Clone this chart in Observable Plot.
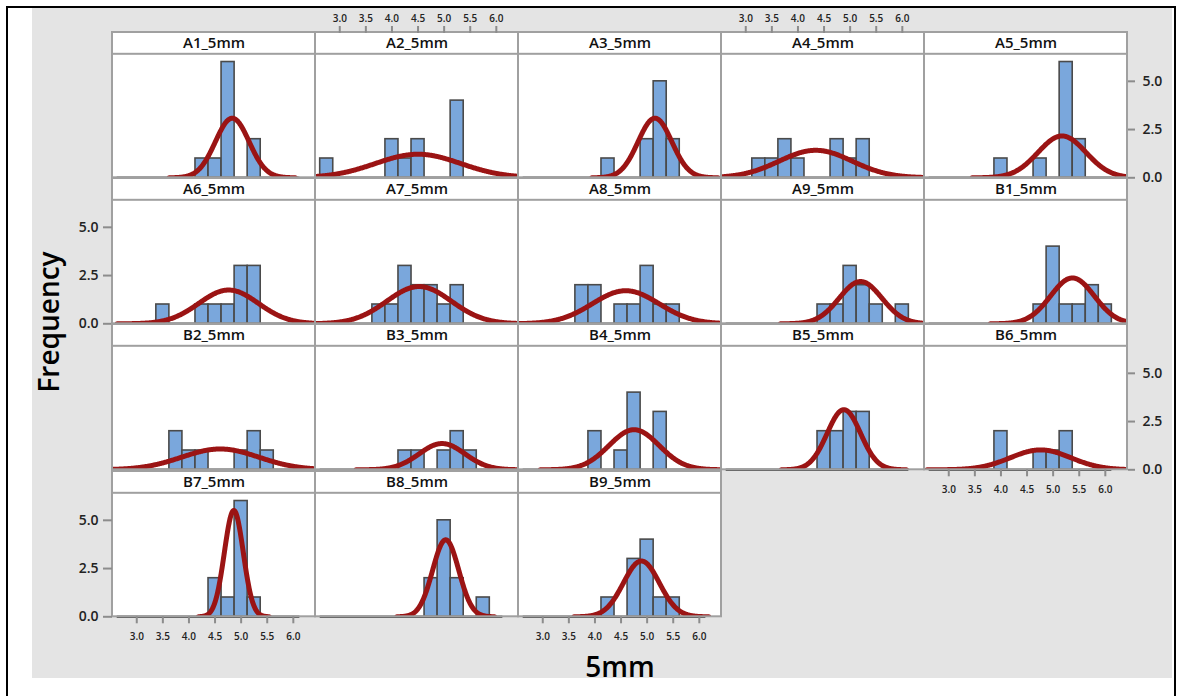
<!DOCTYPE html>
<html><head><meta charset="utf-8">
<script src="https://cdn.jsdelivr.net/npm/d3@7"></script>
<script src="https://cdn.jsdelivr.net/npm/@observablehq/plot@0.6"></script>
<style>
html,body{margin:0;padding:0;background:#fff;}
#root{position:relative;width:1189px;height:696px;overflow:hidden;font-family:"Open Sans",sans-serif;}
.abs{position:absolute;}
#root svg g[aria-label="x-axis tick label"]{font-size:10px;font-weight:600;fill:#222;}
#root svg g[aria-label="y-axis tick label"]{font-size:14px;font-weight:600;fill:#222;}
#root svg g[aria-label="x-axis tick"], #root svg g[aria-label="y-axis tick"]{stroke:#8c8c8c;stroke-width:2;}
</style></head><body><div id="root"></div>
<script>
// ---- data ----
const panelNames = ["A1_5mm","A2_5mm","A3_5mm","A4_5mm","A5_5mm",
                    "A6_5mm","A7_5mm","A8_5mm","A9_5mm","B1_5mm",
                    "B2_5mm","B3_5mm","B4_5mm","B5_5mm","B6_5mm",
                    "B7_5mm","B8_5mm","B9_5mm"];
const binCenters = [2.75,3.0,3.25,3.5,3.75,4.0,4.25,4.5,4.75,5.0,5.25,5.5,5.75,6.0];
const countsA1 = [0,0,0,0,0,0,1,1,6,0,2,0,0,0];
const countsA2 = [1,0,0,0,0,2,1,2,0,0,4,0,0,0];
const countsA3 = [0,0,0,0,0,0,1,0,0,2,5,2,0,0];
const countsA4 = [0,0,1,1,2,1,0,0,2,1,2,0,0,0];
const countsA5 = [0,0,0,0,0,1,0,0,1,0,6,2,0,0];
const countsA6 = [0,0,0,1,0,0,1,1,1,3,3,0,0,0];
const countsA7 = [0,0,0,0,1,1,3,2,2,1,2,0,0,0];
const countsA8 = [0,0,0,0,2,2,0,1,1,3,1,1,0,0];
const countsA9 = [0,0,0,0,0,0,0,1,1,3,2,1,0,1];
const countsB1 = [0,0,0,0,0,0,0,0,1,4,1,1,2,1];
const countsB2 = [0,0,0,0,2,1,1,0,0,1,2,1,0,0];
const countsB3 = [0,0,0,0,0,0,1,1,0,1,2,1,0,0];
const countsB4 = [0,0,0,0,0,2,0,1,4,0,3,0,0,0];
const countsB5 = [0,0,0,0,0,0,0,2,2,3,3,0,0,0];
const countsB6 = [0,0,0,0,0,2,0,0,1,1,2,0,0,0];
const countsB7 = [0,0,0,0,0,0,0,2,1,6,1,0,0,0];
const countsB8 = [0,0,0,0,0,0,0,0,2,5,2,0,1,0];
const countsB9 = [0,0,0,0,0,0,1,0,3,4,1,1,0,0];
// fitted normal (mean, sd)
const fitMean = [4.83,4.50,5.15,4.34,5.17, 4.76,4.52,4.59,5.20,5.37, 4.60,4.96,4.75,4.88,4.76, 4.86,5.03,4.89];
const fitSD   = [0.323,0.817,0.323,0.70,0.46, 0.57,0.62,0.64,0.41,0.42, 0.74,0.44,0.48,0.32,0.58, 0.181,0.25,0.345];
const xTicks = [3.0,3.5,4.0,4.5,5.0,5.5,6.0];
const yTicks = [0,2.5,5.0];
const xTitle = "5mm";
const yTitle = "Frequency";

const panelCounts = [countsA1,countsA2,countsA3,countsA4,countsA5,countsA6,countsA7,countsA8,countsA9,
  countsB1,countsB2,countsB3,countsB4,countsB5,countsB6,countsB7,countsB8,countsB9];

// ---- layout ----
const root = document.getElementById("root");
function div(css, html){const d=document.createElement("div");d.className="abs";d.style.cssText=css;if(html!=null)d.innerHTML=html;root.appendChild(d);return d;}
// outer frame + gray background
div("left:32px;top:8px;width:1140px;height:670px;background:#e4e4e4;");
div("left:6px;top:6px;width:1170px;height:2px;background:#000;");
div("left:6px;top:6px;width:2px;height:690px;background:#000;");
div("left:1174px;top:6px;width:2px;height:690px;background:#000;");

const X0 = 2.535, X1 = 6.425;
const PW = 203, PH = 145.3;
const YS = 6.4, YT = 7.53; // y value at strip bottom, at strip top
const BIN = 0.25;

function panel(i){
  const row = Math.floor(i/5), col = i%5;
  const left = 112 + PW*col, top = 31.5 + 146.4*row;
  const hasTop = i===1||i===3, hasRight = i===4||i===14, hasLeft = i===5||i===15;
  const hasBottom = i===14||i===15||i===17;
  const mL = hasLeft?60:3, mR = hasRight?60:3, mT = hasTop?30:3, mB = hasBottom?30:3;
  const cnt = panelCounts[i];
  const bars = binCenters.map((c,k)=>({x1:c-BIN/2, x2:c+BIN/2, y:cnt[k]})).filter(d=>d.y>0);
  const N = d3.sum(cnt), m = fitMean[i], s = fitSD[i];
  const lo = Math.max(X0, m-3.75*s), hi = Math.min(X1, m+3.75*s);
  const curve = d3.range(0,301).map(j=>{const x=lo+(hi-lo)*j/300;return {x, y:N*BIN*Math.exp(-0.5*((x-m)/s)**2)/(s*Math.sqrt(2*Math.PI))};});
  const marks = [
    Plot.rect([0],{x1:X0,x2:X1,y1:0,y2:YS,fill:"white"}),
    Plot.rect([0],{x1:X0,x2:X1,y1:YS,y2:YT,fill:"white",stroke:"#a0a0a0",strokeWidth:2}),
    Plot.text([panelNames[i]],{x:(X0+X1)/2,y:(YS+YT)/2,text:d=>d,fontSize:15,fontWeight:600,fill:"#111",fontFamily:"Open Sans"}),
    Plot.ruleY([0],{x1:2.625,x2:6.125,stroke:"#555",strokeWidth:2.6}),
    Plot.rect(bars,{x1:"x1",x2:"x2",y1:0,y2:"y",fill:"#7aa7dc",stroke:"#4a4a4a",strokeWidth:1.6}),
    Plot.line(curve,{x:"x",y:"y",stroke:"#9b1414",strokeWidth:5,clip:true}),
    Plot.rect([0],{x1:X0,x2:X1,y1:0,y2:YT,fill:"none",stroke:"#a0a0a0",strokeWidth:2})
  ];
  if(hasTop) marks.push(Plot.axisX(xTicks,{anchor:"top",tickSize:7,tickPadding:3,tickFormat:d=>d.toFixed(1),label:null}));
  if(hasBottom) marks.push(Plot.axisX(xTicks,{anchor:"bottom",tickSize:7,tickPadding:9,tickFormat:d=>d.toFixed(1),label:null}));
  if(hasLeft) marks.push(Plot.axisY(yTicks,{anchor:"left",tickSize:9,tickPadding:5,tickFormat:d=>d.toFixed(1),label:null}));
  if(hasRight) marks.push(Plot.axisY(yTicks,{anchor:"right",tickSize:7,tickPadding:8,tickFormat:d=>d.toFixed(1),label:null}));
  const svg = Plot.plot({
    width: PW+mL+mR, height: PH+mT+mB,
    marginLeft:mL, marginRight:mR, marginTop:mT, marginBottom:mB,
    x:{domain:[X0,X1], axis:null},
    y:{domain:[0,YT], axis:null},
    style:{background:"transparent",overflow:"visible",fontFamily:"Open Sans"},
    marks
  });
  const holder = div(`left:${left-mL}px;top:${top-mT}px;`);
  holder.appendChild(svg);
}
for(let i=0;i<panelNames.length;i++) panel(i);

// axis titles
div("left:420px;width:400px;top:646px;text-align:center;font-size:28px;font-weight:600;line-height:40px;color:#000;", xTitle);
div("left:-152px;top:302px;width:400px;text-align:center;font-size:28px;font-weight:600;line-height:40px;color:#000;transform:rotate(-90deg);", yTitle);
</script></body></html>
